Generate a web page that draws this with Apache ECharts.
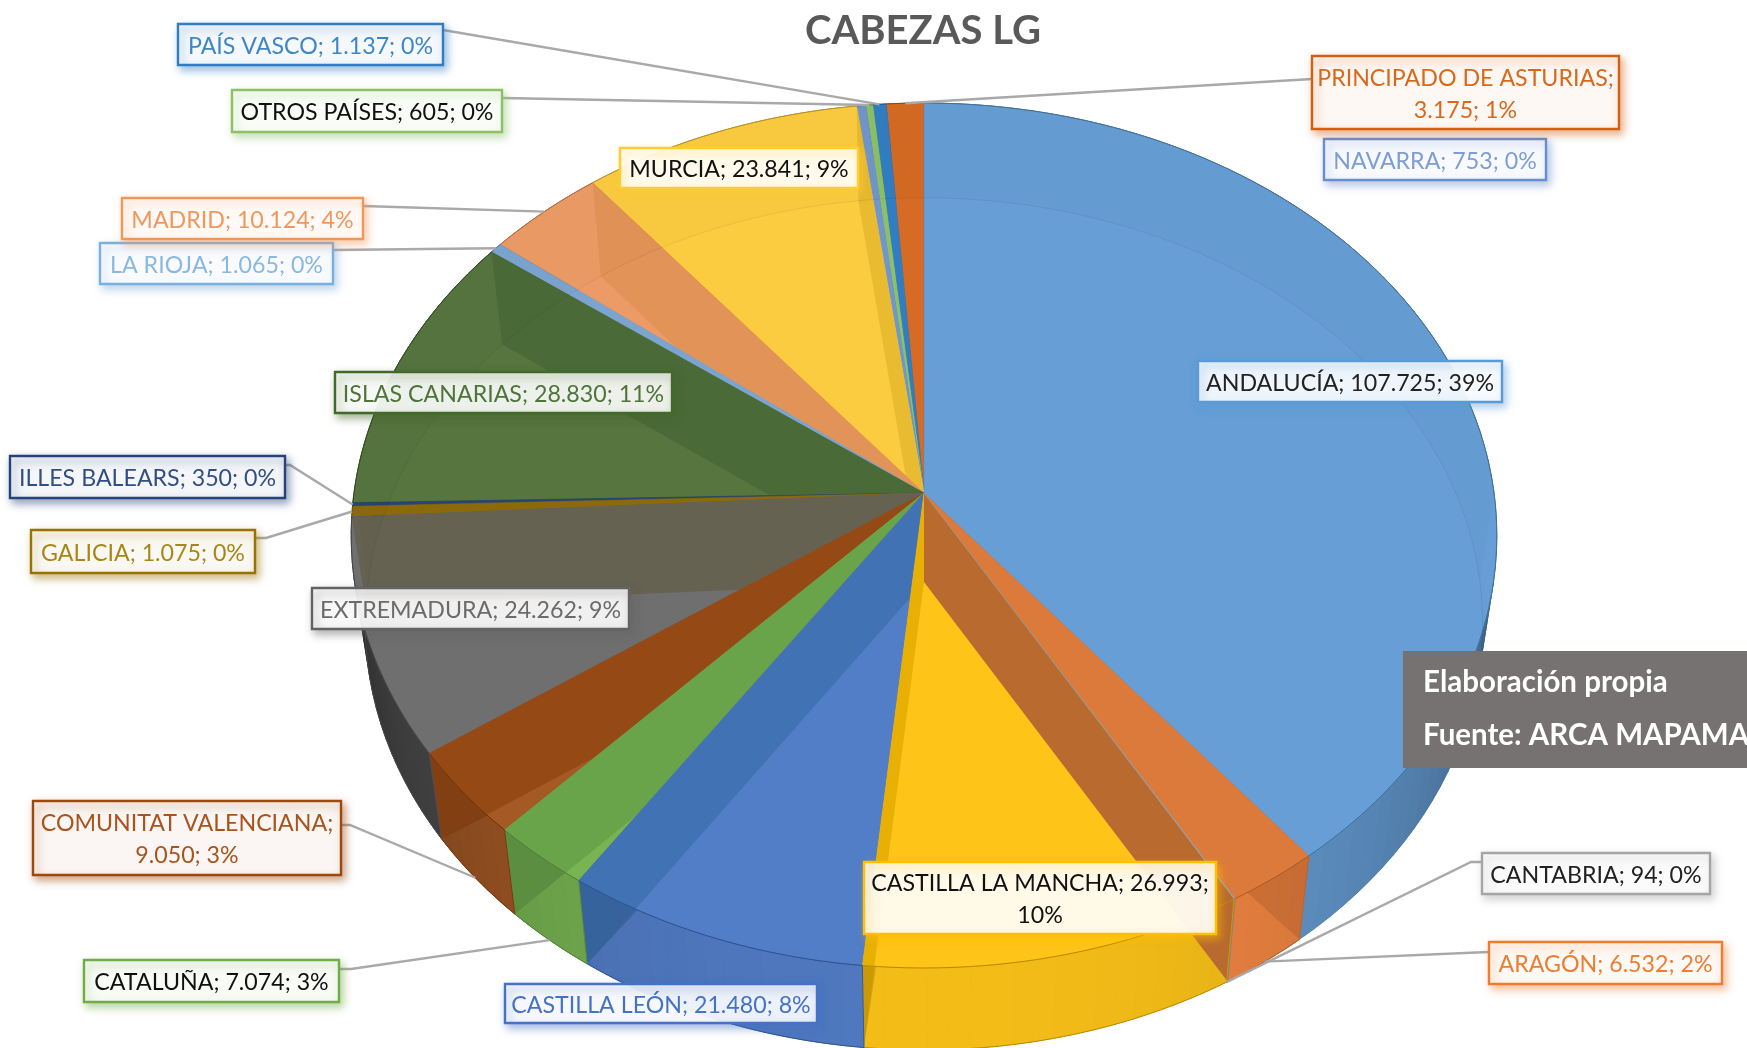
<!DOCTYPE html>
<html><head><meta charset="utf-8">
<style>html,body{margin:0;padding:0;background:#fff}#c{width:1747px;height:1048px}</style>
<script src="https://cdn.jsdelivr.net/npm/echarts@6/dist/echarts.min.js"></script>
</head><body><div id="c"></div>
<script>
// ---- data ----
const categories = ['ANDALUCÍA','ARAGÓN','CANTABRIA','CASTILLA LA MANCHA','CASTILLA LEÓN','CATALUÑA','COMUNITAT VALENCIANA','EXTREMADURA','GALICIA','ILLES BALEARS','ISLAS CANARIAS','LA RIOJA','MADRID','MURCIA','NAVARRA','OTROS PAÍSES','PAÍS VASCO','PRINCIPADO DE ASTURIAS'];
const values = [107725,6532,94,26993,21480,7074,9050,24262,1075,350,28830,1065,10124,23841,753,605,1137,3175];
const titleText = 'CABEZAS LG';
const noteLines = ['Elaboración propia','Fuente: ARCA MAPAMA'];

// ---- style ----
const baseColors = ['#5b9bd5','#ed7d31','#a5a5a5','#ffc000','#4472c4','#70ad47','#9e480e','#636363','#997300','#264478','#43682b','#7cafdd','#f1975a','#ffcd33','#698ed0','#8cc168','#327dc2','#d26012'];
const topColors  = ['#669ed5','#dc7a3c','#a5a5a5','#fec418','#527dc7','#78b552','#a55a25','#6f6f6f','#8c6a0c','#264478','#56753f','#7ba4d0','#ec9b66','#fbcc40','#7096cc','#8cc168','#327dc2','#d56b24'];
const wallColors = [null,'#b86a2f',null,'#e8b005','#4072b4','#69a44b','#954915','#666251',null,null,'#4a6b38',null,'#e29358','#e8bb30','#7096cc','#8cc168','#327dc2',null];
const darkened = [3,4,5,6];
const wallTone = {1:1.12,7:.72};
const textColors = ['#222','#ed7d31','#222','#111','#4472c4','#111','#a9541c','#6b6b6b','#a8871a','#2f4f85','#4f7339','#8ab8e2','#f1975a','#111','#7c9dd6','#111','#3f86c8','#d9681c'];
const borderColors = baseColors;
const boxes = [[1198,361,304,41],[1489,942,233,42],[1482,853,228,41],[864,862,352,72],[505,984,312,39],[84,960,255,42],[33,801,308,74],[312,588,317,41],[31,530,224,43],[10,456,275,42],[335,372,337,41],[100,243,233,41],[122,198,241,41],[620,148,238,40],[1324,139,222,41],[232,90,270,42],[178,24,265,41],[1312,56,307,73]];
const breaks = {3:2,6:1,17:1};
// leader: start points from the label box, and which rim (0 top, 1 bottom) it lands on
const leaders = {1:{from:[[1488,952]],rim:1},2:{from:[[1482,862],[1471,862]],rim:1},5:{from:[[339,969],[351,969]],rim:1},6:{from:[[341,825],[350,825]],rim:1},8:{from:[[255,538],[266,538]],rim:0},9:{from:[[285,465],[290,465]],rim:0},11:{from:[[333,250]],rim:0},12:{from:[[363,206]],rim:0},15:{from:[[502,98]],rim:0},16:{from:[[443,30]],rim:0},17:{from:[[1312,79]],rim:0}};
const geom = {cx:924,k:0.0983,rims:[{y:493,C:570,B:428.3},{y:582,C:556,B:422}]};
const fontFamily = 'Lato,"Open Sans",sans-serif';
const labelSize = 23.2;

// ---- helpers derived from the data ----
const total = values.reduce((a,b)=>a+b,0);
const cum = [0]; values.forEach((v,i)=>cum.push(cum[i]+v));
const ang = f => f/total*Math.PI*2;
function P(t,r){const u=Math.sin(t),v=Math.cos(t),d=1+geom.k*v,g=geom.rims[r];return [geom.cx+g.C*u/d,g.y-g.B*v/d];}
function arc(a,b,r){const n=Math.max(1,Math.ceil((b-a)/(Math.PI/180)));const o=[];for(let i=0;i<=n;i++)o.push(P(a+(b-a)*i/n,r));return o;}
function shade(hex,f){const n=parseInt(hex.slice(1),16);const c=[n>>16,(n>>8)&255,n&255].map(x=>Math.min(255,Math.round(x*f)));return `rgb(${c[0]},${c[1]},${c[2]})`;}
const fmt = v => String(v).replace(/\B(?=(\d{3})+$)/g,'.');
function labelText(i){const n=categories[i],v=fmt(values[i]),p=Math.round(values[i]/total*100)+'%';
  if(breaks[i]===1)return n+';\n'+v+'; '+p; if(breaks[i]===2)return n+'; '+v+';\n'+p; return n+'; '+v+'; '+p;}
const topApex = [geom.cx,geom.rims[0].y], botApex = [geom.cx,geom.rims[1].y];
const drawRank = i => i>=3 ? 17-i : 15+i;
// rim angle where the line from the bottom apex through the bottom-rim point at angle e crosses the top rim
function crossing(e,limit){const E=P(e,1),side=t=>{const q=P(t,0);return (E[0]-botApex[0])*(q[1]-botApex[1])-(E[1]-botApex[1])*(q[0]-botApex[0]);};
  const s0=side(e),d=Math.sign(limit-e)*Math.PI/720;let t=e+d;while((limit-t)*d>0&&side(t)*s0>0)t+=d;return t;}

function layer(name,z,fn){return {type:'custom',name,coordinateSystem:'none',z,silent:true,animation:false,data:values.map((v,i)=>[i,v]),
  renderItem:(p,api)=>{const i=p.dataIndex;return {type:'group',children:fn(i,ang(cum[i]),ang(cum[i+1]))};}};}

const bottomFaces = layer('bottom',2,(i,a,b)=>[{type:'polygon',shape:{points:[botApex].concat(arc(a,b,1))},style:{fill:shade(baseColors[i],.9)}}]);
const outerWalls = layer('outer',3,(i,a,b)=>{const out=[];const st=Math.PI/90;const n=Math.max(1,Math.ceil((b-a)/st));
  for(let j=0;j<n;j++){const t0=a+(b-a)*j/n,t1=a+(b-a)*(j+1)/n,m=(t0+t1)/2;const c=Math.max(0,-Math.cos(m));const f=.3+.7*Math.sqrt(c);
    const col=shade(topColors[i],f*.96*(wallTone[i]||1));
    out.push({type:'polygon',shape:{points:[P(t0,0),P(t1,0),P(t1,1),P(t0,1)]},style:{fill:col,stroke:col,lineWidth:.6}});}
  return out;});
// each slice's top, then its end wall, then the wall's darker part below the rim
const slices = layer('slices',4,(i,a,b)=>{const r=drawRank(i)*3,out=[
  {type:'polygon',z2:r,shape:{points:[topApex].concat(arc(a,b,0))},style:{fill:topColors[i],stroke:shade(baseColors[i],.94),lineWidth:.5}}];
  if(wallColors[i]){
    out.push({type:'polygon',z2:r+1,shape:{points:[topApex,botApex,P(b,1),P(b,0)]},style:{fill:wallColors[i]}});
    if(darkened.includes(i)){
      const t=crossing(b,a);
      out.push({type:'polygon',z2:r+2,shape:{points:arc(t,b,0).concat([P(b,1)])},style:{fill:'rgba(0,0,0,.13)'}});
    }
  }
  if(i===1){const t=crossing(a,b);
    out.push({type:'polygon',z2:r+2,shape:{points:arc(a,t,0).concat([P(a,1)])},style:{fill:'rgba(60,20,0,.12)'}});}
  return out;});
const backTint = layer('backtint',5,(i,a,b)=>{const m=[],pieces=[]; if(b>Math.PI*1.5)pieces.push([Math.max(a,Math.PI*1.5),b]); if(a<Math.PI/2)pieces.push([a,Math.min(b,Math.PI/2)]);
  pieces.forEach(q=>m.push({type:'polygon',shape:{points:arc(q[0],q[1],0).concat(arc(q[0],q[1],1).reverse())},style:{fill:'rgba(0,0,40,.01)'}}));
  return m;});
const rimLines = layer('rimlines',7,(i,a,b)=>[{type:'polyline',shape:{points:arc(a,b,0)},style:{fill:null,stroke:shade(baseColors[i],.72),lineWidth:1}},
  {type:'polyline',shape:{points:arc(a,b,1)},style:{fill:null,stroke:(Math.cos((a+b)/2)>0?'rgba(0,0,40,.07)':shade(baseColors[i],.72)),lineWidth:1}},
  {type:'polyline',shape:{points:[P(a,0),P(a,1)]},style:{fill:null,stroke:Math.cos(a)<-.3?shade(baseColors[i],.8):'rgba(0,0,0,0)',lineWidth:1}}]);
const leaderLines = layer('leaders',8,(i,a,b)=>{const L=leaders[i];if(!L)return [];
  return [{type:'polyline',shape:{points:L.from.concat([P((a+b)/2,L.rim)])},style:{fill:null,stroke:'#a9a9a9',lineWidth:2.4}}];});
const labels = layer('labels',9,(i)=>{const q=boxes[i];return [
  {type:'rect',shape:{x:q[0],y:q[1],width:q[2],height:q[3]},style:{fill:'rgba(255,255,255,.9)',stroke:borderColors[i],lineWidth:2.4,shadowBlur:8,shadowOffsetX:3,shadowOffsetY:4,shadowColor:borderColors[i]+'88'}},
  {type:'text',x:q[0]+q[2]/2,y:q[1]+q[3]/2+2,style:{text:labelText(i),fill:textColors[i],font:labelSize+'px '+fontFamily,align:'center',verticalAlign:'middle',lineHeight:32}}];});

const chart = echarts.init(document.getElementById('c'),null,{renderer:'canvas',width:1747,height:1048});
chart.setOption({
  animation:false,
  backgroundColor:'#fff',
  title:{text:titleText,left:800,top:6,textStyle:{color:'#595959',fontFamily,fontWeight:'bold',fontSize:40}},
  graphic:[
    {type:'rect',z:20,shape:{x:1403,y:651,width:344,height:117},style:{fill:'#767271'}},
    {type:'text',z:21,x:1423,y:682,style:{text:noteLines[0],fill:'#fff',font:'bold 29.5px '+fontFamily,verticalAlign:'middle'}},
    {type:'text',z:21,x:1423,y:735,style:{text:noteLines[1],fill:'#fff',font:'bold 29.5px '+fontFamily,verticalAlign:'middle'}}
  ],
  series:[bottomFaces,outerWalls,slices,backTint,rimLines,leaderLines,labels]
});
</script></body></html>
